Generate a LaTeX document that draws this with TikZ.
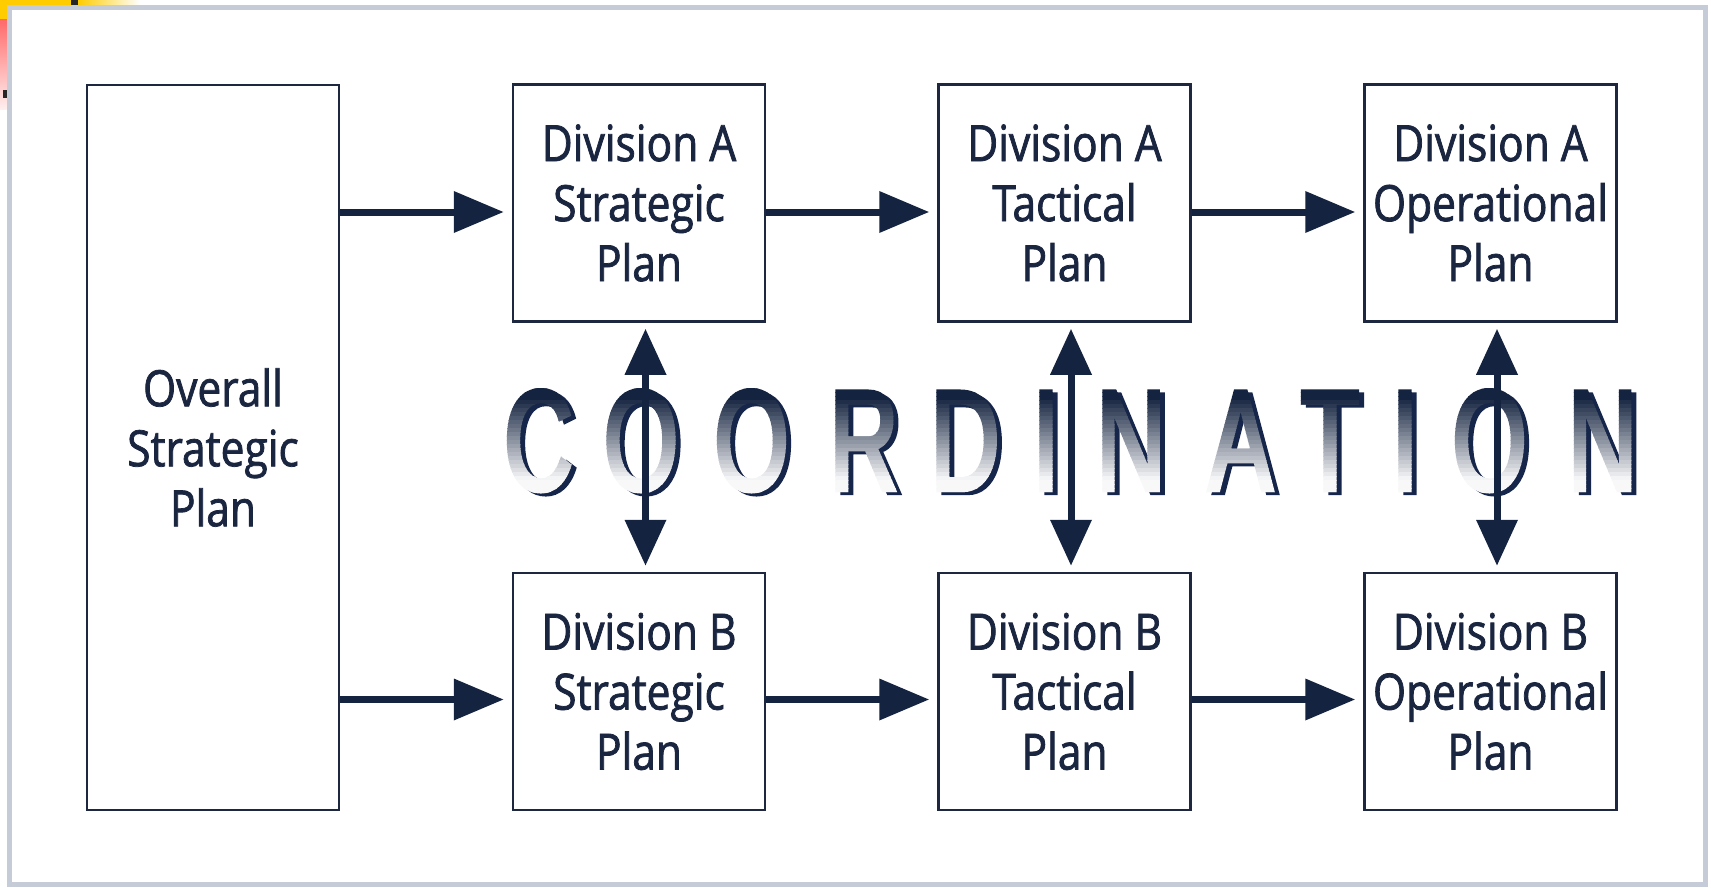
\documentclass[tikz,border=0pt]{standalone}
\usepackage{fontspec}
\setmainfont{Open Sans}
\newfontfamily\boxfont[FakeStretch=0.85,FakeBold=1.5]{Open Sans}
\newfontfamily\coordfont[FakeStretch=0.665,FakeBold=3]{Liberation Sans}
\usetikzlibrary{arrows.meta}
\definecolor{navy}{HTML}{14233F}
\definecolor{boxline}{HTML}{1D2840}
\definecolor{textc}{HTML}{1A2540}
\definecolor{shadowc}{HTML}{16254A}
\definecolor{framec}{HTML}{C6CBD8}
\definecolor{decyellow}{HTML}{FFCC00}
\definecolor{decred}{HTML}{FF6A6A}
\tikzset{
  plan/.style={draw=boxline, line width=2.5pt, minimum width=252pt, minimum height=237pt,
    inner sep=0pt, align=center, text=textc, font=\boxfont\fontsize{50}{60}\selectfont},
  coordletter/.style={inner sep=0pt, anchor=base, font=\coordfont\fontsize{143}{143}\selectfont},
  flow/.style={draw=navy, line width=7pt, -{Triangle[length=50pt,width=40pt]}, shorten >=8pt},
  link/.style={draw=navy, line width=7pt, {Triangle[length=46pt,width=40pt]}-{Triangle[length=46pt,width=40pt]},
    shorten >=6pt, shorten <=6pt},
}
\begin{document}
\begin{tikzpicture}[x=1pt,y=-1pt]
\useasboundingbox (0,0) rectangle (1711,888);
% slide corner decoration
\fill[decyellow] (0,0) rectangle (71,20);
\fill[black!85] (71,0) rectangle (78,5);
\shade[left color=decyellow, right color=white] (78,0) rectangle (140,5);
\shade[top color=decred, bottom color=decred!10] (0,20) rectangle (8,110);
\fill[black!85] (3,90) rectangle (7,98);
% frame
\fill[white] (9.5,7.5) rectangle (1705.5,884);
\draw[framec, line width=5pt] (9.5,7.5) rectangle (1705.5,884);
% COORDINATION shadow
\foreach \n/\ch/\cx in {1/C/538.5, 2/O/641, 3/O/751.5, 4/R/864, 5/D/965, 6/I/1046,
    7/N/1131, 8/A/1240.5, 9/T/1330, 10/I/1405, 11/O/1489.5, 12/N/1602.5}{
  \node[coordletter, text=shadowc] (sh\n) at (\cx+5,493) {\ch};
}
% COORDINATION gradient face
\foreach \b in {0,...,27}{
  \pgfmathtruncatemacro\p{max(3,min(100,100-(4*\b-12)*100/85))}
  \begin{scope}
    \clip (490,384+4*\b) rectangle (1660,388.6+4*\b);
    \foreach \n/\ch/\cx in {1/C/538.5, 2/O/641, 3/O/751.5, 4/R/864, 5/D/965, 6/I/1046,
        7/N/1131, 8/A/1240.5, 9/T/1330, 10/I/1405, 11/O/1489.5, 12/N/1602.5}{
      \node[coordletter, text=navy!\p!white] (f\b-\n) at (\cx,490) {\ch};
    }
  \end{scope}
}
% boxes
\node[plan, minimum height=725pt] (ov) at (213,447.5) {Overall\\Strategic\\Plan};
\node[plan] (sa) at (639,203) {Division A\\Strategic\\Plan};
\node[plan] (ta) at (1064.5,203) {Division A\\Tactical\\Plan};
\node[plan] (oa) at (1490.5,203) {Division A\\Operational\\Plan};
\node[plan] (sb) at (639,691.5) {Division B\\Strategic\\Plan};
\node[plan] (tb) at (1064.5,691.5) {Division B\\Tactical\\Plan};
\node[plan] (ob) at (1490.5,691.5) {Division B\\Operational\\Plan};
% horizontal arrows
\coordinate (ra1) at ([yshift=-9pt]sa.west);
\coordinate (ra2) at ([yshift=-9pt]ta.west);
\coordinate (ra3) at ([yshift=-9pt]oa.west);
\coordinate (rb1) at ([yshift=-8pt]sb.west);
\coordinate (rb2) at ([yshift=-8pt]tb.west);
\coordinate (rb3) at ([yshift=-8pt]ob.west);
\draw[flow] (ra1 -| ov.east) -- (ra1);
\draw[flow] (ra2 -| sa.east) -- (ra2);
\draw[flow] (ra3 -| ta.east) -- (ra3);
\draw[flow] (rb1 -| ov.east) -- (rb1);
\draw[flow] (rb2 -| sb.east) -- (rb2);
\draw[flow] (rb3 -| tb.east) -- (rb3);
% coordination arrows
\draw[link] ([xshift=6.5pt]sa.south) -- ([xshift=6.5pt]sb.north);
\draw[link] ([xshift=6.5pt]ta.south) -- ([xshift=6.5pt]tb.north);
\draw[link] ([xshift=6.5pt]oa.south) -- ([xshift=6.5pt]ob.north);
\end{tikzpicture}
\end{document}
